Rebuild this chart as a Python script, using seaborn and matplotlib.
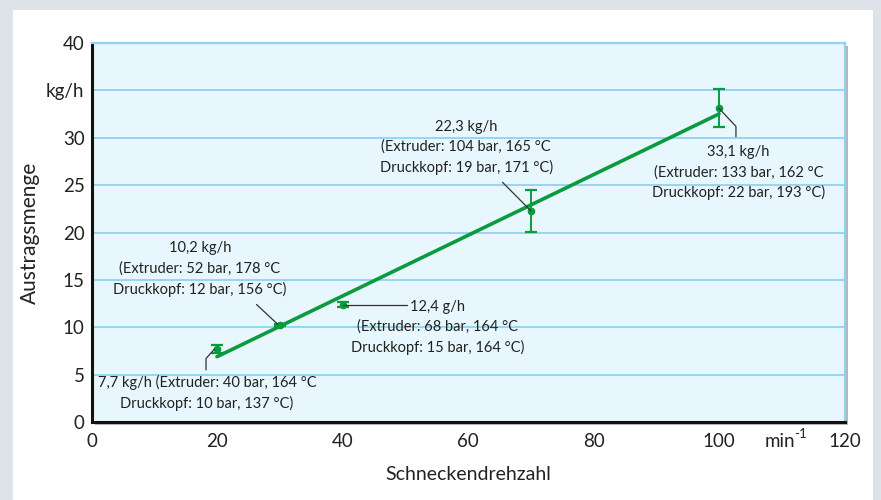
"""
Austragsmenge über Schneckendrehzahl mit Fehlerbalken und Regressionsgerade.
"""
import matplotlib
matplotlib.use("Agg")
import matplotlib.pyplot as plt
import matplotlib.patheffects as pe
from matplotlib.patches import Rectangle
import seaborn as sns
import pandas as pd

sns.set_theme(style="white")
plt.rcParams["font.family"] = ["Lato", "DejaVu Sans"]

GREEN = "#0b9a3e"
GRID = "#8fd3f2"
TEXT = "#222222"

# Messwerte
drehzahl = [20, 30, 40, 70, 100]
austrag = [7.7, 10.2, 12.4, 22.3, 33.1]
fehler = [0.4, 0.1, 0.3, 2.2, 2.0]

xticks = [0, 20, 40, 60, 80, 100, 120]
yticks = [0, 5, 10, 15, 20, 25, 30, 35, 40]
ylabels = ["0", "5", "10", "15", "20", "25", "30", "kg/h", "40"]

labels = [
    "7,7 kg/h (Extruder: 40 bar, 164 °C\nDruckkopf: 10 bar, 137 °C)",
    "10,2 kg/h\n(Extruder: 52 bar, 178 °C\nDruckkopf: 12 bar, 156 °C)",
    "12,4 g/h\n(Extruder: 68 bar, 164 °C\nDruckkopf: 15 bar, 164 °C)",
    "22,3 kg/h\n(Extruder: 104 bar, 165 °C\nDruckkopf: 19 bar, 171 °C)",
    "33,1 kg/h\n(Extruder: 133 bar, 162 °C\nDruckkopf: 22 bar, 193 °C)",
]
label_pos = [(18.4, 3.1), (17.3, 16.15), (55.2, 9.95), (59.7, 28.95), (103.1, 26.3)]
leaders = [
    ([18.25, 18.25, 19.6], [5.5, 6.7, 7.7]),
    ([26.3, 29.7], [12.4, 10.3]),
    ([40.1, 50.3], [12.4, 12.4]),
    ([65.5, 70.0], [25.3, 22.3]),
    ([102.7, 102.7, 100.0], [30.1, 31.2, 33.1]),
]

df = pd.DataFrame({"drehzahl": drehzahl, "austrag": austrag})

fig = plt.figure(figsize=(8.81, 5.0), dpi=100, facecolor="#dde3e9")
fig.patches.append(Rectangle((13 / 881, 0), (873 - 13) / 881, 490 / 500,
                             transform=fig.transFigure, facecolor="white",
                             edgecolor="none", zorder=-10))
ax = fig.add_axes([91.5 / 881, (500 - 422) / 500, 753 / 881, 379 / 500])
ax.set_facecolor("#e8f6fd")
ax.patch.set_path_effects([pe.withSimplePatchShadow(offset=(2.5, -2.5),
                                                    shadow_rgbFace="#888888", alpha=0.6)])

for y in yticks[1:-1]:
    ax.axhline(y, color=GRID, lw=1.3, zorder=1)

sns.regplot(data=df, x="drehzahl", y="austrag", ax=ax, scatter=False, ci=None,
            truncate=True, line_kws=dict(color=GREEN, lw=2.6, zorder=3))
ax.errorbar(drehzahl, austrag, yerr=fehler, fmt="o", color=GREEN, ms=4.5,
            elinewidth=1.4, capsize=4, capthick=1.6, zorder=4)

for px, py in leaders:
    ax.plot(px, py, color="#333333", lw=0.9, zorder=5)
for text, (tx, ty) in zip(labels, label_pos):
    ax.text(tx, ty, text, ha="center", va="center", fontsize=10.5, color=TEXT,
            linespacing=1.5, zorder=6)

ax.set_xlim(0, 120)
ax.set_ylim(0, 40)
ax.set_xticks(xticks)
ax.set_yticks(yticks)
ax.set_yticklabels(ylabels)
ax.tick_params(axis="x", direction="in", length=6, width=1.2, color=GRID,
               labelsize=13.5, labelcolor=TEXT, pad=8)
ax.tick_params(axis="y", length=0, labelsize=13.5, labelcolor=TEXT, pad=5)

# Einheit der x-Achse zwischen 100 und 120
xt = ax.get_xaxis_transform()
ax.text(107.3, -0.066, "min", transform=xt, ha="left", va="baseline",
        fontsize=13.5, color=TEXT)
ax.text(112.0, -0.043, "-1", transform=xt, ha="left", va="baseline",
        fontsize=9.5, color=TEXT)

for side in ["left", "bottom"]:
    ax.spines[side].set_color("#111111")
    ax.spines[side].set_linewidth(2.2)
for side in ["top", "right"]:
    ax.spines[side].set_color(GRID)
    ax.spines[side].set_linewidth(1.6)

ax.set_xlabel("Schneckendrehzahl", fontsize=14, color=TEXT)
ax.set_ylabel("Austragsmenge", fontsize=15, color=TEXT)
ax.xaxis.set_label_coords(0.5, -0.115)
ax.yaxis.set_label_coords(-0.068, 0.5)

fig.savefig("out.png", dpi=100, facecolor=fig.get_facecolor())
